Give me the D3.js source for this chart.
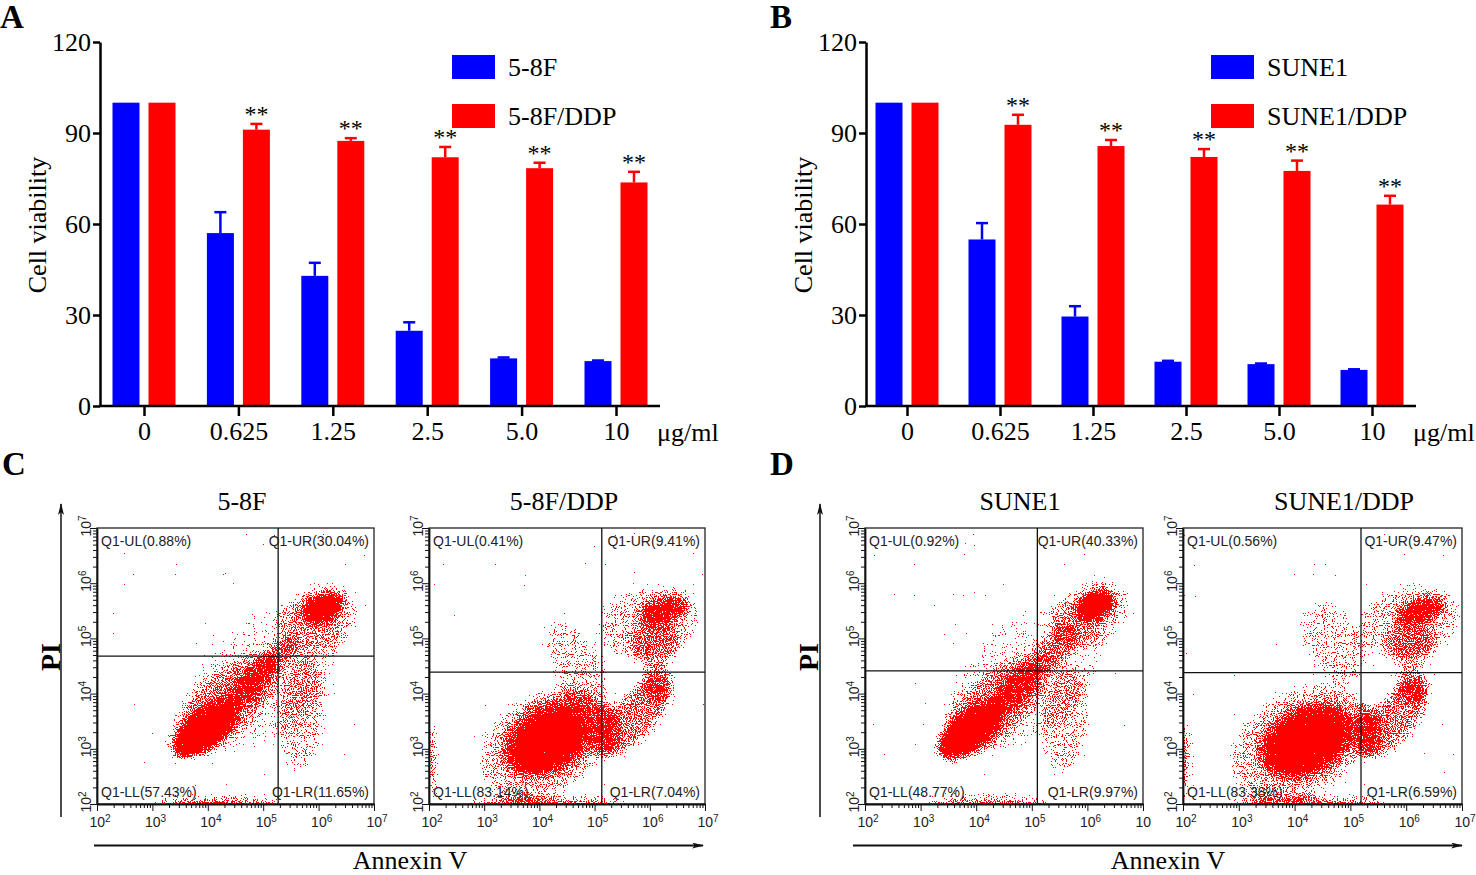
<!DOCTYPE html>
<html>
<head>
<meta charset="utf-8">
<script src="https://cdn.jsdelivr.net/npm/d3@7"></script>
<style>
  body { margin: 0; background: #fff; }
  svg { display: block; }
</style>
</head>
<body>
<svg width="1476" height="875"></svg>
<script>
// ---- bar chart data (A, B) ----
const doses = ['0', '0.625', '1.25', '2.5', '5.0', '10'];
const yTicks = [0, 30, 60, 90, 120];
const starFlags = [false, true, true, true, true, true];

const aNames = ['5-8F', '5-8F/DDP'];
const aPar = [100, 57.0, 42.9, 24.8, 15.7, 14.8];
const aParErr = [0, 6.9, 4.3, 2.8, 0.3, 0.2];
const aDdp = [100, 91.1, 87.4, 82.0, 78.4, 73.7];
const aDdpErr = [0, 1.9, 0.9, 3.4, 1.8, 3.5];

const bNames = ['SUNE1', 'SUNE1/DDP'];
const bPar = [100, 54.9, 29.5, 14.6, 13.8, 11.9];
const bParErr = [0, 5.4, 3.4, 0.3, 0.2, 0.2];
const bDdp = [100, 92.7, 85.7, 82.1, 77.5, 66.4];
const bDdpErr = [0, 3.3, 2.0, 2.6, 3.4, 2.9];

// ---- flow cytometry data (C, D) ----
const flowTitles = ['5-8F', '5-8F/DDP', 'SUNE1', 'SUNE1/DDP'];
const decades = [2, 3, 4, 5, 6, 7];
const quadText = [
  ['Q1-UL(0.88%)', 'Q1-UR(30.04%)', 'Q1-LL(57.43%)', 'Q1-LR(11.65%)'],
  ['Q1-UL(0.41%)', 'Q1-UR(9.41%)', 'Q1-LL(83.14%)', 'Q1-LR(7.04%)'],
  ['Q1-UL(0.92%)', 'Q1-UR(40.33%)', 'Q1-LL(48.77%)', 'Q1-LR(9.97%)'],
  ['Q1-UL(0.56%)', 'Q1-UR(9.47%)', 'Q1-LL(83.38%)', 'Q1-LR(6.59%)']
];
// quadrant gate, log10(Annexin V), log10(PI)
const gates = [[5.27, 4.68], [5.13, 4.39], [5.10, 4.41], [5.19, 4.38]];
// populations: [log x, log y, radius x, radius y (decades), tilt deg, density]
const cloud58F = [
  [5.0, 4.3, 1.7, 1.0, -42, 0.2],
  [4.3, 3.8, 1.3, 0.55, -42, 0.35],
  [3.95, 3.35, 0.7, 0.32, -40, 1.0],
  [4.75, 4.15, 0.6, 0.22, -45, 0.55],
  [5.3, 4.7, 0.4, 0.22, -45, 0.42],
  [6.0, 5.35, 0.75, 0.6, -30, 0.3],
  [6.08, 5.55, 0.38, 0.24, -25, 1.0],
  [5.7, 3.65, 0.42, 1.05, 5, 0.32],
  [4.2, 2.02, 1.2, 0.06, 0, 1.0]
];
const cloud58FDdp = [
  [4.1, 3.1, 1.3, 0.9, -33, 0.35],
  [4.2, 3.2, 0.95, 0.65, -31, 0.45],
  [4.16, 3.15, 0.72, 0.45, -31, 1.0],
  [5.2, 3.3, 0.25, 0.5, 0, 0.5],
  [5.75, 3.6, 0.85, 0.4, -51, 0.48],
  [6.15, 4.2, 0.3, 0.35, -20, 0.45],
  [6.1, 4.9, 0.45, 0.45, 0, 0.35],
  [6.0, 5.3, 0.95, 0.65, -15, 0.32],
  [6.24, 5.51, 0.45, 0.22, -15, 0.7],
  [4.7, 4.5, 0.45, 0.9, -30, 0.3],
  [4.2, 2.02, 1.5, 0.06, 0, 1.0],
  [2.02, 2.8, 0.06, 0.7, 0, 0.9]
];
const cloudSune1 = [
  [4.9, 4.3, 1.7, 1.0, -42, 0.2],
  [4.3, 3.75, 1.3, 0.55, -42, 0.35],
  [3.9, 3.33, 0.7, 0.32, -40, 1.0],
  [4.7, 4.07, 0.6, 0.24, -45, 0.55],
  [5.45, 4.83, 0.55, 0.28, -50, 0.42],
  [6.05, 5.45, 0.75, 0.55, -30, 0.3],
  [6.14, 5.6, 0.36, 0.24, -25, 1.0],
  [5.6, 3.5, 0.42, 0.95, 5, 0.32],
  [4.2, 2.02, 1.2, 0.06, 0, 1.0]
];
const cloudSune1Ddp = [
  [4.1, 3.1, 1.35, 0.95, -33, 0.35],
  [4.22, 3.15, 0.95, 0.65, -28, 0.45],
  [4.22, 3.13, 0.75, 0.47, -28, 1.0],
  [5.3, 3.3, 0.25, 0.5, 0, 0.5],
  [5.8, 3.55, 0.85, 0.4, -51, 0.48],
  [6.1, 4.16, 0.3, 0.35, -20, 0.45],
  [6.1, 4.9, 0.45, 0.45, 0, 0.35],
  [6.05, 5.3, 0.95, 0.65, -15, 0.32],
  [6.25, 5.51, 0.45, 0.2, -15, 0.7],
  [4.7, 4.9, 0.5, 0.8, -30, 0.3],
  [4.2, 2.02, 1.5, 0.06, 0, 1.0],
  [2.02, 2.8, 0.06, 0.7, 0, 0.9]
];
const clouds = [cloud58F, cloud58FDdp, cloudSune1, cloudSune1Ddp];

const SERIF = '"Liberation Serif","Times New Roman",serif';
const SANS = '"Liberation Sans",Arial,sans-serif';
const BLUE = '#0000ff';
const RED = '#ff0000';

const svg = d3.select('svg');
const defs = svg.append('defs');

// speckle filter: density (blurred alpha) thresholded against noise -> red dots
const flt = defs.append('filter')
  .attr('id', 'dots')
  .attr('filterUnits', 'userSpaceOnUse')
  .attr('x', 0).attr('y', 0).attr('width', 1476).attr('height', 875)
  .attr('color-interpolation-filters', 'sRGB');
flt.append('feGaussianBlur').attr('in', 'SourceAlpha').attr('stdDeviation', 5).attr('result', 'dens');
flt.append('feTurbulence').attr('type', 'fractalNoise').attr('baseFrequency', 0.9)
  .attr('numOctaves', 1).attr('seed', 7).attr('result', 'noise');
flt.append('feComposite').attr('in', 'dens').attr('in2', 'noise').attr('operator', 'arithmetic')
  .attr('k1', 0).attr('k2', 3).attr('k3', -5).attr('k4', 1.5).attr('result', 'm');
flt.append('feComponentTransfer').attr('in', 'm').attr('result', 'mask')
  .append('feFuncA').attr('type', 'discrete').attr('tableValues', '0 1');
flt.append('feFlood').attr('flood-color', RED).attr('result', 'red');
flt.append('feComposite').attr('in', 'red').attr('in2', 'mask').attr('operator', 'in');

defs.append('marker')
  .attr('id', 'arrow')
  .attr('viewBox', '0 0 12 6')
  .attr('refX', 11).attr('refY', 3)
  .attr('markerWidth', 12).attr('markerHeight', 6)
  .attr('markerUnits', 'userSpaceOnUse')
  .attr('orient', 'auto')
  .append('path')
  .attr('d', 'M0,0 L12,3 L0,6 L3,3 Z')
  .attr('fill', '#111');

function letter(t, x, y) {
  svg.append('text').attr('x', x).attr('y', y)
    .attr('font-family', SERIF).attr('font-weight', 'bold').attr('font-size', 33)
    .text(t);
}

// ---------- bar panels ----------
function barPanel(o) {
  const g = svg.append('g');
  const y = d3.scaleLinear().domain([0, 120]).range([406, 42]);
  const x = d3.scalePoint().domain(doses).range([o.first, o.last]);
  const sub = d3.scaleBand().domain([0, 1]).range([-31.5, 31.5]).paddingInner(0.25);
  const series = [
    { vals: o.par, err: o.parErr, color: BLUE },
    { vals: o.ddp, err: o.ddpErr, color: RED }
  ];

  series.forEach((s, i) => {
    const rows = doses.map((d, j) => ({ d, v: s.vals[j], e: s.err[j], star: i === 1 && starFlags[j] }));
    const cx = r => x(r.d) + sub(i) + sub.bandwidth() / 2;

    g.selectAll(null).data(rows).enter().append('rect')
      .attr('x', r => x(r.d) + sub(i))
      .attr('width', sub.bandwidth())
      .attr('y', r => y(r.v))
      .attr('height', r => y(0) - y(r.v))
      .attr('fill', s.color);

    const eb = rows.filter(r => r.e > 0);
    g.selectAll(null).data(eb).enter().append('line')
      .attr('x1', cx).attr('x2', cx)
      .attr('y1', r => y(r.v)).attr('y2', r => y(r.v + r.e))
      .attr('stroke', s.color).attr('stroke-width', 2.5);
    g.selectAll(null).data(eb).enter().append('line')
      .attr('x1', r => cx(r) - 6).attr('x2', r => cx(r) + 6)
      .attr('y1', r => y(r.v + r.e)).attr('y2', r => y(r.v + r.e))
      .attr('stroke', s.color).attr('stroke-width', 2.5);

    g.selectAll(null).data(rows.filter(r => r.star)).enter().append('text')
      .attr('x', cx)
      .attr('y', r => y(r.v + r.e) - 2)
      .attr('text-anchor', 'middle')
      .attr('font-family', SERIF).attr('font-size', 24)
      .text('**');
  });

  const ya = g.append('g')
    .attr('transform', `translate(${o.axisX},0)`)
    .call(d3.axisLeft(y).tickValues(yTicks).tickSize(7).tickPadding(2).tickSizeOuter(0));
  ya.attr('font-family', SERIF).attr('font-size', 26);
  ya.selectAll('path, line').attr('stroke', '#000').attr('stroke-width', 2.5);
  ya.selectAll('text').attr('fill', '#000');

  g.append('line')
    .attr('x1', o.axisX - 1).attr('x2', o.axisEnd)
    .attr('y1', y(0)).attr('y2', y(0))
    .attr('stroke', '#000').attr('stroke-width', 2.5);
  const xa = g.append('g')
    .attr('transform', `translate(0,${y(0)})`)
    .call(d3.axisBottom(x).tickSize(10).tickPadding(6));
  xa.select('.domain').remove();
  xa.attr('font-family', SERIF).attr('font-size', 26);
  xa.selectAll('line').attr('stroke', '#000').attr('stroke-width', 2.5);
  xa.selectAll('text').attr('fill', '#000');

  g.append('text')
    .attr('x', o.unitX).attr('y', 441)
    .attr('font-family', SERIF).attr('font-size', 26)
    .text('μg/ml');

  g.append('text')
    .attr('transform', `translate(${o.axisX - 54},225) rotate(-90)`)
    .attr('text-anchor', 'middle')
    .attr('font-family', SERIF).attr('font-size', 26)
    .text('Cell viability');

  const leg = g.selectAll(null).data(o.names).enter().append('g')
    .attr('transform', (d, i) => `translate(${o.legX},${55 + i * 49})`);
  leg.append('rect').attr('width', 43).attr('height', 24)
    .attr('fill', (d, i) => i === 0 ? BLUE : RED);
  leg.append('text').attr('x', 56).attr('y', 20.5)
    .attr('font-family', SERIF).attr('font-size', 26)
    .text(d => d);
}

barPanel({ names: aNames, par: aPar, parErr: aParErr, ddp: aDdp, ddpErr: aDdpErr,
  axisX: 100, axisEnd: 660, first: 144, last: 616, unitX: 657, legX: 452 });
barPanel({ names: bNames, par: bPar, parErr: bParErr, ddp: bDdp, ddpErr: bDdpErr,
  axisX: 866, axisEnd: 1416, first: 907, last: 1372, unitX: 1413, legX: 1211 });

letter('A', 0, 28);
letter('B', 770, 28);

// ---------- flow panels ----------
const boxes = [
  { x0: 97, x1: 374, tx: 242 },
  { x0: 429, x1: 705, tx: 564 },
  { x0: 865, x1: 1143, tx: 1020 },
  { x0: 1183, x1: 1462, tx: 1344 }
];
const BOT = 804, TOP = 528;

const majorVals = decades.map(d => Math.pow(10, d));
const minorVals = [];
decades.slice(0, -1).forEach(d => {
  for (let m = 2; m <= 9; m++) minorVals.push(m * Math.pow(10, d));
});

function supLabel(sel, cutLast) {
  sel.each(function (d, i, nodes) {
    const t = d3.select(this).text('10');
    if (cutLast && i === nodes.length - 1) return;
    t.append('tspan').attr('dy', '-0.5em').attr('font-size', 10).text(Math.round(Math.log10(d)));
  });
}

function flowPanel(k) {
  const b = boxes[k];
  const x = d3.scaleLog().domain([1e2, 1e7]).range([b.x0, b.x1]);
  const y = d3.scaleLog().domain([1e2, 1e7]).range([BOT, TOP]);
  const pxX = (b.x1 - b.x0) / 5, pxY = (BOT - TOP) / 5;
  const g = svg.append('g');

  const clipId = 'clip' + k;
  defs.append('clipPath').attr('id', clipId).append('rect')
    .attr('x', b.x0).attr('y', TOP).attr('width', b.x1 - b.x0).attr('height', BOT - TOP);

  g.append('g').attr('clip-path', `url(#${clipId})`)
    .append('g').attr('filter', 'url(#dots)')
    .selectAll('ellipse').data(clouds[k]).enter().append('ellipse')
    .attr('cx', c => x(Math.pow(10, c[0])))
    .attr('cy', c => y(Math.pow(10, c[1])))
    .attr('rx', c => c[2] * pxX)
    .attr('ry', c => c[3] * pxY)
    .attr('transform', c => `rotate(${c[4]},${x(Math.pow(10, c[0]))},${y(Math.pow(10, c[1]))})`)
    .attr('fill', '#000')
    .attr('fill-opacity', c => c[5]);

  g.append('rect')
    .attr('x', b.x0).attr('y', TOP).attr('width', b.x1 - b.x0).attr('height', BOT - TOP)
    .attr('fill', 'none').attr('stroke', '#222').attr('stroke-width', 1.3);

  const gx = x(Math.pow(10, gates[k][0])), gy = y(Math.pow(10, gates[k][1]));
  g.append('line').attr('x1', gx).attr('x2', gx).attr('y1', TOP).attr('y2', BOT)
    .attr('stroke', '#111').attr('stroke-width', 1.3);
  g.append('line').attr('x1', b.x0).attr('x2', b.x1).attr('y1', gy).attr('y2', gy)
    .attr('stroke', '#111').attr('stroke-width', 1.3);

  const q = quadText[k];
  const qpos = [
    [b.x0 + 4, TOP + 18, 'start'], [b.x1 - 5, TOP + 18, 'end'],
    [b.x0 + 4, BOT - 7, 'start'], [b.x1 - 5, BOT - 7, 'end']
  ];
  g.selectAll(null).data(q).enter().append('text')
    .attr('x', (d, i) => qpos[i][0]).attr('y', (d, i) => qpos[i][1])
    .attr('text-anchor', (d, i) => qpos[i][2])
    .attr('font-family', SANS).attr('font-size', 14).attr('fill', '#222')
    .text(d => d);

  // axes
  const xMinor = g.append('g').attr('transform', `translate(0,${BOT})`)
    .call(d3.axisBottom(x).tickValues(minorVals).tickSize(4).tickFormat(''));
  const xMajor = g.append('g').attr('transform', `translate(0,${BOT})`)
    .call(d3.axisBottom(x).tickValues(majorVals).tickSize(7).tickSizeOuter(0).tickFormat(''));
  const yMinor = g.append('g').attr('transform', `translate(${b.x0},0)`)
    .call(d3.axisLeft(y).tickValues(minorVals).tickSize(4).tickFormat(''));
  const yMajor = g.append('g').attr('transform', `translate(${b.x0},0)`)
    .call(d3.axisLeft(y).tickValues(majorVals).tickSize(7).tickSizeOuter(0).tickFormat(''));
  [xMinor, yMinor].forEach(a => a.select('.domain').remove());
  [xMinor, xMajor, yMinor, yMajor].forEach(a => {
    a.selectAll('line').attr('stroke', '#111').attr('stroke-width', 1);
  });
  [xMajor, yMajor].forEach(a => {
    a.select('.domain').attr('stroke', '#111').attr('stroke-width', 1.8);
    a.attr('font-family', SANS).attr('font-size', 14);
    a.selectAll('text').attr('fill', '#222');
  });

  xMajor.selectAll('.tick text')
    .attr('x', -8).attr('y', 23).attr('dy', 0).attr('text-anchor', 'start')
    .call(supLabel, k === 2);
  yMajor.selectAll('.tick text')
    .attr('x', -8).attr('y', 0).attr('dy', 0).attr('text-anchor', 'start')
    .attr('transform', 'translate(-6,0) rotate(-90)')
    .call(supLabel, false);

  svg.append('text')
    .attr('x', b.tx).attr('y', 510)
    .attr('text-anchor', 'middle')
    .attr('font-family', SERIF).attr('font-size', 26)
    .text(flowTitles[k]);
}

[0, 1, 2, 3].forEach(flowPanel);

// shared arrows and axis titles for C and D
const groups = [
  { letterX: 2, piX: 60, arrowY: 61, ax0: 94, ax1: 703, annX: 410 },
  { letterX: 770, piX: 818, arrowY: 820, ax0: 853, ax1: 1462, annX: 1168 }
];
groups.forEach((o, i) => {
  letter(i === 0 ? 'C' : 'D', o.letterX, 475);
  svg.append('line')
    .attr('x1', o.arrowY).attr('x2', o.arrowY).attr('y1', 817).attr('y2', 504)
    .attr('stroke', '#111').attr('stroke-width', 1.5).attr('marker-end', 'url(#arrow)');
  svg.append('line')
    .attr('x1', o.ax0).attr('x2', o.ax1).attr('y1', 845.5).attr('y2', 845.5)
    .attr('stroke', '#111').attr('stroke-width', 2).attr('marker-end', 'url(#arrow)');
  svg.append('text')
    .attr('transform', `translate(${o.piX},657) rotate(-90)`)
    .attr('text-anchor', 'middle')
    .attr('font-family', SERIF).attr('font-weight', 'bold').attr('font-size', 28)
    .text('PI');
  svg.append('text')
    .attr('x', o.annX).attr('y', 869)
    .attr('text-anchor', 'middle')
    .attr('font-family', SERIF).attr('font-size', 26)
    .text('Annexin V');
});
</script>
</body>
</html>
